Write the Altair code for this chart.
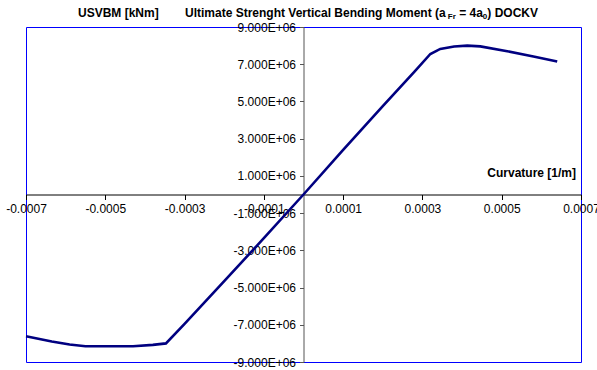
import altair as alt
import pandas as pd

# Curvature [1/m] and ultimate vertical bending moment [kNm]
curvature = [-0.0007, -0.000635, -0.00059, -0.00055, -0.00043, -0.00038, -0.000347,
             -0.0003, -0.0002, -0.0001, 0.0, 0.0001, 0.0002, 0.00028, 0.00032,
             0.000345, 0.00038, 0.000413, 0.000446, 0.000514, 0.00058, 0.00064]
moment = [-7.62e6, -7.90e6, -8.06e6, -8.15e6, -8.15e6, -8.08e6, -8.0e6,
          -6.95e6, -4.65e6, -2.35e6, 0.0, 2.4e6, 4.75e6, 6.6e6, 7.55e6,
          7.82e6, 7.95e6, 8.0e6, 7.96e6, 7.7e6, 7.42e6, 7.15e6]

x_ticks = [-0.0007, -0.0005, -0.0003, -0.0001, 0.0001, 0.0003, 0.0005, 0.0007]
y_ticks = [-9e6, -7e6, -5e6, -3e6, -1e6, 1e6, 3e6, 5e6, 7e6, 9e6]
x_domain = [-0.0007, 0.0007]
y_domain = [-9e6, 9e6]

W, H = 555, 335
FONT = "Liberation Sans"

df = pd.DataFrame({"k": curvature, "m": moment})

# axes cross at the origin: shift them inward from the frame edges
x_off = -H * (0 - y_domain[0]) / (y_domain[1] - y_domain[0])
y_off = -W * (0 - x_domain[0]) / (x_domain[1] - x_domain[0])

line = alt.Chart(df).mark_line(color="#000080", strokeWidth=2.6).encode(
    x=alt.X("k:Q", scale=alt.Scale(domain=x_domain, nice=False, zero=False),
            axis=alt.Axis(values=x_ticks,
                          labelExpr="replace(format(datum.value, '.4f'), '\u2212', '-')",
                          title=None, grid=False,
                          offset=x_off, domainColor="black", tickColor="black",
                          tickSize=5, labelPadding=4, labelFontSize=12,
                          labelFont=FONT, labelColor="black", labelOverlap=False,
                          labelBound=False, labelFlush=False)),
    y=alt.Y("m:Q", scale=alt.Scale(domain=y_domain, nice=False, zero=False),
            axis=alt.Axis(values=y_ticks,
                          labelExpr="replace(format(datum.value / 1e6, '.3f'), '\u2212', '-') + 'E+06'",
                          title=None, grid=False, offset=y_off,
                          domainColor="#555555", tickColor="#555555", tickSize=4,
                          labelPadding=4, labelFontSize=12, labelFont=FONT,
                          labelColor="black", labelOverlap=False, labelBound=False,
                          labelFlush=False)),
    order=alt.Order("k:Q"),
)

# Approximate Arial/Liberation Sans Bold advance widths (per 1000 em)
ADV = {"U": 722, "l": 278, "t": 333, "i": 278, "m": 889, "a": 556, "e": 556, " ": 278,
       "S": 667, "r": 389, "n": 611, "g": 611, "h": 611, "V": 667, "c": 556, "B": 722,
       "d": 611, "o": 611, "M": 833, "(": 333, ")": 333, "=": 584, "4": 556, "0": 556,
       "D": 722, "O": 778, "C": 722, "K": 722, "F": 611}

def width(s, size):
    return sum(ADV.get(ch, 556) for ch in s) * size / 1000.0

# main title with subscripts, drawn segment by segment
# (text, font size, baseline shift, gap before)
segments = [("Ultimate Strenght Vertical Bending Moment (a", 12, 0, 0),
            ("Fr", 8, 2, 1.5),
            ("= 4a", 12, 0, 3.3),
            ("0", 8, 2, 0),
            (") DOCKV", 12, 0, 0)]
title_x0 = 185 - 26
title_y = 17 - 27
layers = []
cur = title_x0
for text, size, dy, gap in segments:
    cur += gap
    layers.append(
        alt.Chart(pd.DataFrame({"t": [text]})).mark_text(
            align="left", baseline="alphabetic", font=FONT, fontSize=size,
            fontWeight="bold", color="black", dy=dy
        ).encode(x=alt.value(cur), y=alt.value(title_y), text="t:N")
    )
    cur += width(text, size)

y_title = alt.Chart(pd.DataFrame({"t": ["USVBM [kNm]"]})).mark_text(
    align="left", baseline="alphabetic", font=FONT, fontSize=12, fontWeight="bold",
    color="black"
).encode(x=alt.value(78 - 26), y=alt.value(title_y), text="t:N")

x_title = alt.Chart(pd.DataFrame({"t": ["Curvature [1/m]"]})).mark_text(
    align="right", baseline="alphabetic", font=FONT, fontSize=12, fontWeight="bold",
    color="black"
).encode(x=alt.value(576 - 26), y=alt.value(177 - 27), text="t:N")

chart = alt.layer(line, y_title, x_title, *layers).properties(
    width=W, height=H,
    autosize=alt.AutoSizeParams(type="none"),
    padding={"left": 26, "top": 27, "right": 16, "bottom": 8},
    background="white",
).configure_view(stroke="#0000ff", strokeWidth=1)

chart.save("out.html", embed_options={"renderer": "svg", "actions": False})
